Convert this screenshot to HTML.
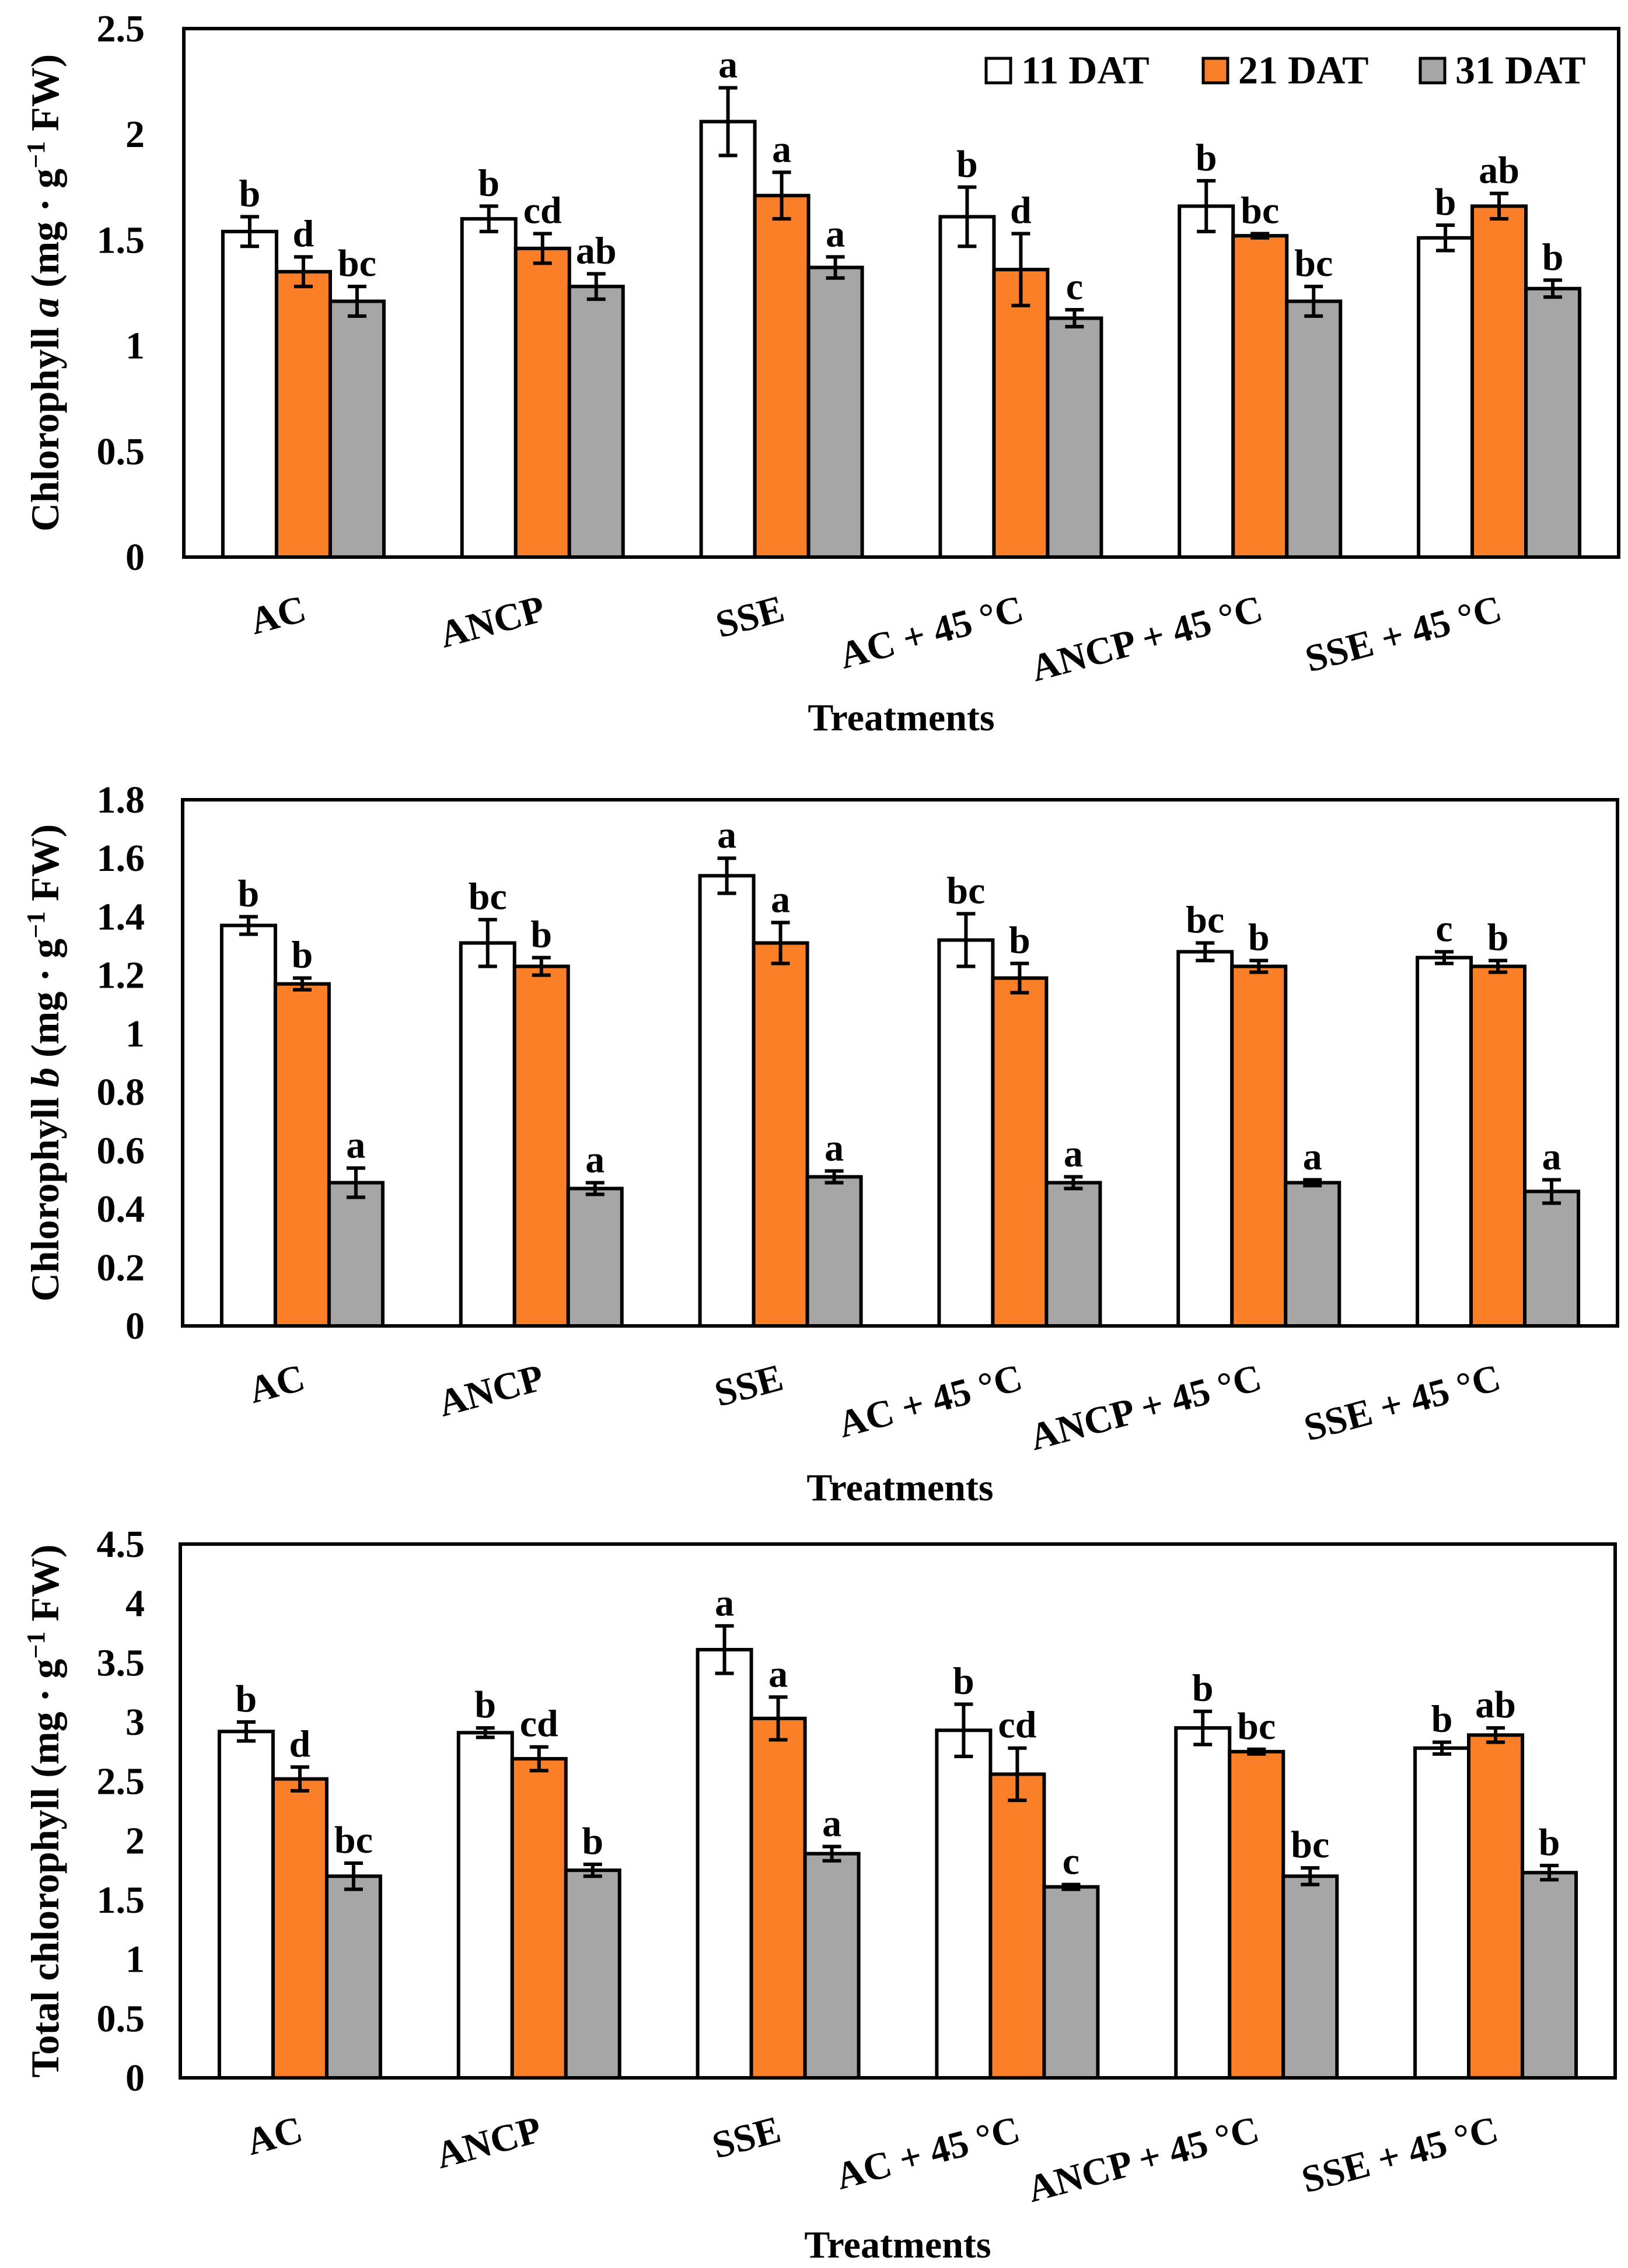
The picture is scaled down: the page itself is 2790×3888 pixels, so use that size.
<!DOCTYPE html>
<html><head><meta charset="utf-8">
<style>
html,body{margin:0;padding:0;background:#fff;}
svg{display:block;font-family:"Liberation Serif",serif;font-weight:bold;}
</style></head>
<body>
<svg id="fig" width="2790" height="3888" viewBox="0 0 2790 3888" xmlns="http://www.w3.org/2000/svg"></svg>
<script>
const categories = ["AC","ANCP","SSE","AC + 45 °C","ANCP + 45 °C","SSE + 45 °C"];
const seriesNames = ["11 DAT","21 DAT","31 DAT"];
const seriesColors = ["#ffffff","#fb7f29","#a6a6a6"];

// Chart A: Chlorophyll a
const chlA_11 = [1.54,1.60,2.06,1.61,1.66,1.51];
const chlA_21 = [1.35,1.46,1.71,1.36,1.52,1.66];
const chlA_31 = [1.21,1.28,1.37,1.13,1.21,1.27];
const chlA_err11 = [0.07,0.06,0.16,0.14,0.12,0.06];
const chlA_err21 = [0.07,0.07,0.11,0.17,0.01,0.06];
const chlA_err31 = [0.07,0.06,0.05,0.04,0.07,0.04];
const chlA_let11 = ["b","b","a","b","b","b"];
const chlA_let21 = ["d","cd","a","d","bc","ab"];
const chlA_let31 = ["bc","ab","a","c","bc","b"];
const chlA_ticks = ["0","0.5","1","1.5","2","2.5"];

// Chart B: Chlorophyll b
const chlB_11 = [1.37,1.31,1.54,1.32,1.28,1.26];
const chlB_21 = [1.17,1.23,1.31,1.19,1.23,1.23];
const chlB_31 = [0.49,0.47,0.51,0.49,0.49,0.46];
const chlB_err11 = [0.03,0.08,0.06,0.09,0.03,0.02];
const chlB_err21 = [0.02,0.03,0.07,0.05,0.02,0.02];
const chlB_err31 = [0.05,0.02,0.02,0.02,0.01,0.04];
const chlB_let11 = ["b","bc","a","bc","bc","c"];
const chlB_let21 = ["b","b","a","b","b","b"];
const chlB_let31 = ["a","a","a","a","a","a"];
const chlB_ticks = ["0","0.2","0.4","0.6","0.8","1","1.2","1.4","1.6","1.8"];

// Chart C: Total chlorophyll
const chlT_11 = [2.92,2.91,3.61,2.93,2.95,2.78];
const chlT_21 = [2.52,2.69,3.03,2.56,2.75,2.89];
const chlT_31 = [1.70,1.75,1.89,1.61,1.70,1.73];
const chlT_err11 = [0.08,0.04,0.20,0.22,0.14,0.05];
const chlT_err21 = [0.10,0.10,0.18,0.22,0.02,0.06];
const chlT_err31 = [0.11,0.05,0.06,0.02,0.07,0.06];
const chlT_let11 = ["b","b","a","b","b","b"];
const chlT_let21 = ["d","cd","a","cd","bc","ab"];
const chlT_let31 = ["bc","b","a","c","bc","b"];
const chlT_ticks = ["0","0.5","1","1.5","2","2.5","3","3.5","4","4.5"];

const NS="http://www.w3.org/2000/svg";
const svg=document.getElementById('fig');
function mk(tag,attrs,parent){const e=document.createElementNS(NS,tag);for(const k in attrs)e.setAttribute(k,attrs[k]);(parent||svg).appendChild(e);return e;}

function drawChart(cfg){
  const g=mk('g',{});
  
  
  const L=cfg.left,R=cfg.right,T=cfg.top,B=cfg.bottom;
  const ymax=parseFloat(cfg.ticks[cfg.ticks.length-1]);
  const y=v=>B-(v/ymax)*(B-T);
  const band=(R-L)/categories.length;
  const bw=92;
  const xBar=(ci,si)=>L+band*ci+band/2-1.5*bw+si*bw;
  cfg.ticks.forEach(t=>{
    const tx=mk('text',{x:248,y:y(parseFloat(t))+22,'text-anchor':'end','font-size':66},g);
    tx.textContent=t;
    
    
  });
  const fr=mk('rect',{x:L,y:T,width:R-L,height:B-T,fill:'none',stroke:'#000','stroke-width':6},g);
  
  
  const series=[cfg.s1,cfg.s2,cfg.s3],errs=[cfg.e1,cfg.e2,cfg.e3],lets=[cfg.l1,cfg.l2,cfg.l3];
  categories.forEach((c,ci)=>{
    series.forEach((s,si)=>{
      const x0=xBar(ci,si);
      const r=mk('rect',{x:x0,y:y(s[ci]),width:bw,height:B-y(s[ci]),fill:seriesColors[si],stroke:'#000','stroke-width':6},g);
      
      
      const cx=x0+bw/2, hi=y(s[ci]+errs[si][ci]), lo=y(s[ci]-errs[si][ci]);
      const eb=mk('path',{d:`M${cx},${hi}V${lo}M${cx-16},${hi}H${cx+16}M${cx-16},${lo}H${cx+16}`,stroke:'#000','stroke-width':6,fill:'none'},g);
      
      
      const lt=mk('text',{x:cx,y:hi-18,'text-anchor':'middle','font-size':66},g);
      lt.textContent=lets[si][ci];
      
      
    });
    const ex=L+band*ci+band/2+8, ey=B+108;
    const cl=mk('text',{x:ex,y:ey,'text-anchor':'end','font-size':66,transform:`rotate(-15 ${ex} ${ey})`},g);
    cl.textContent=c;
    
    
  });
  const xt=mk('text',{x:(L+R)/2,y:cfg.xtitleY,'text-anchor':'middle','font-size':66},g);
  xt.textContent='Treatments';
  
  
  const cy=(T+B)/2;
  const yt=mk('text',{x:100,y:cy,'text-anchor':'middle','font-size':68,transform:`rotate(-90 100 ${cy})`},g);
  
  
  yt.innerHTML=cfg.ytitle;
}

drawChart({name:'chlorophyll-a-chart',left:315,right:2774,top:49,bottom:955,ticks:chlA_ticks,
  s1:chlA_11,s2:chlA_21,s3:chlA_31,e1:chlA_err11,e2:chlA_err21,e3:chlA_err31,l1:chlA_let11,l2:chlA_let21,l3:chlA_let31,
  xtitleY:1252,ytitle:'Chlorophyll <tspan font-style="italic">a</tspan> (mg · g<tspan dy="-24" font-size="44">−1</tspan><tspan dy="24"> FW)</tspan>'});
drawChart({name:'chlorophyll-b-chart',left:313,right:2772,top:1371,bottom:2273,ticks:chlB_ticks,
  s1:chlB_11,s2:chlB_21,s3:chlB_31,e1:chlB_err11,e2:chlB_err21,e3:chlB_err31,l1:chlB_let11,l2:chlB_let21,l3:chlB_let31,
  xtitleY:2572,ytitle:'Chlorophyll <tspan font-style="italic">b</tspan> (mg · g<tspan dy="-24" font-size="44">−1</tspan><tspan dy="24"> FW)</tspan>'});
drawChart({name:'total-chlorophyll-chart',left:309,right:2768,top:2647,bottom:3562,ticks:chlT_ticks,
  s1:chlT_11,s2:chlT_21,s3:chlT_31,e1:chlT_err11,e2:chlT_err21,e3:chlT_err31,l1:chlT_let11,l2:chlT_let21,l3:chlT_let31,
  xtitleY:3870,ytitle:'Total chlorophyll (mg · g<tspan dy="-24" font-size="44">−1</tspan><tspan dy="24"> FW)</tspan>'});

const lg=mk('g',{});


const legX=[1690,2062,2434];
seriesNames.forEach((n,i)=>{
  const r=mk('rect',{x:legX[i],y:100,width:42,height:42,fill:seriesColors[i],stroke:'#000','stroke-width':5},lg);
  
  
  const t=mk('text',{x:legX[i]+60,y:143,'font-size':68},lg);
  t.textContent=n;
  
  
});
</script>
</body></html>
